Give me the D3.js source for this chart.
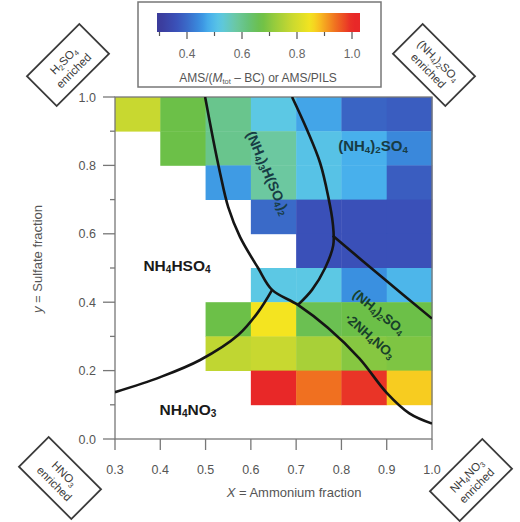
<!DOCTYPE html>
<html><head><meta charset="utf-8">
<script src="https://cdn.jsdelivr.net/npm/d3@7"></script>
<style>
html,body{margin:0;padding:0;background:#fff;}
svg{display:block;font-family:"Liberation Sans","DejaVu Sans",sans-serif;}
</style></head>
<body><svg id="c" width="520" height="522"></svg>
<script>
// ---------------- data ----------------
const xBins = [0.3, 0.4, 0.5, 0.6, 0.7, 0.8, 0.9];          // left edge of ammonium-fraction bin
const yBins = [0.9, 0.8, 0.7, 0.6, 0.5, 0.4, 0.3, 0.2, 0.1, 0.0]; // bottom edge of sulfate-fraction bin
// AMS/(Mtot-BC) ratio per cell (rows follow yBins, columns follow xBins); null = no data
const row90 = [0.78, 0.67, 0.60, 0.52, 0.47, 0.39, 0.38];
const row80 = [null, 0.67, 0.60, 0.58, 0.51, 0.48, 0.44];
const row70 = [null, null, 0.46, 0.58, 0.51, 0.48, 0.38];
const row60 = [null, null, null, 0.40, 0.36, 0.36, 0.36];
const row50 = [null, null, null, null, 0.36, 0.36, 0.36];
const row40 = [null, null, null, 0.52, 0.52, 0.45, 0.49];
const row30 = [null, null, 0.67, 0.85, 0.66, 0.67, 0.67];
const row20 = [null, null, 0.77, 0.78, 0.74, 0.70, 0.69];
const row10 = [null, null, null, 1.00, 0.94, 0.99, 0.87];
const row00 = [null, null, null, null, null, null, null];
const rows = [row90, row80, row70, row60, row50, row40, row30, row20, row10, row00];

const xTicks = [0.3, 0.4, 0.5, 0.6, 0.7, 0.8, 0.9, 1.0];
const yTicks = [0.0, 0.2, 0.4, 0.6, 0.8, 1.0];
const yMinor = [0.1, 0.3, 0.5, 0.7, 0.9];
const cbTicks = [0.4, 0.6, 0.8, 1.0];
const cbMinor = [0.3, 0.5, 0.7, 0.9];

// colormap stops
const cmapVals = [0.30, 0.36, 0.40, 0.45, 0.48, 0.52, 0.58, 0.62, 0.67, 0.72, 0.78, 0.85, 0.88, 0.94, 1.00];
const cmapCols = ["#3b3b9a","#3a50b8","#3a6ac8","#3a90e0","#48b0ec","#5cc8e4","#6cc8a0","#66c27a","#6cc048","#98cc3c","#c8d830","#f4e420","#f8c020","#f07020","#e82828"];

// phase boundaries [x, y]
const curveBisulfate = [[0.499,1.0],[0.517,0.874],[0.532,0.778],[0.550,0.678],[0.576,0.591],[0.616,0.5],[0.647,0.436],[0.704,0.392],[0.77,0.325],[0.84,0.235],[0.9,0.135],[0.95,0.075],[1.0,0.045]];
const curveLetovicite = [[0.691,1.0],[0.724,0.904],[0.753,0.807],[0.771,0.708],[0.781,0.63],[0.782,0.567],[0.764,0.5],[0.735,0.436],[0.704,0.392]];
const curveNitrate = [[0.3,0.137],[0.4,0.181],[0.488,0.231],[0.572,0.304],[0.616,0.371],[0.647,0.436]];
const curveMixed = [[0.781,0.594],[0.89,0.473],[1.0,0.352]];

// ---------------- drawing ----------------
const svg = d3.select("#c");
const x = d3.scaleLinear().domain([0.3, 1.0]).range([115, 432]);
const y = d3.scaleLinear().domain([0, 1]).range([439, 97]);
const color = d3.scaleLinear().domain(cmapVals).range(cmapCols).clamp(true);
const step = 0.1;

// cells
const cells = [];
rows.forEach((r, i) => r.forEach((v, j) => { if (v != null) cells.push({x0: xBins[j], y0: yBins[i], v}); }));
svg.append("g").selectAll("rect").data(cells).join("rect")
  .attr("x", d => x(d.x0)).attr("y", d => y(d.y0 + step))
  .attr("width", d => x(d.x0 + step) - x(d.x0) + 0.4)
  .attr("height", d => y(d.y0) - y(d.y0 + step) + 0.4)
  .attr("fill", d => color(d.v));

// frame and ticks
const axisCol = "#777";
svg.append("rect").attr("x", x(0.3)).attr("y", y(1)).attr("width", x(1) - x(0.3)).attr("height", y(0) - y(1))
  .attr("fill", "none").attr("stroke", axisCol).attr("stroke-width", 1.3);
const ax = svg.append("g");
ax.selectAll(".xt").data(xTicks).join("line").attr("x1", d => x(d)).attr("x2", d => x(d))
  .attr("y1", y(0)).attr("y2", y(0) + 11).attr("stroke", axisCol).attr("stroke-width", 1.3);
ax.selectAll(".xl").data(xTicks).join("text").attr("x", d => x(d)).attr("y", 474)
  .attr("text-anchor", "middle").attr("font-size", 12.5).attr("fill", "#555").text(d => d.toFixed(1));
ax.selectAll(".yt").data(yTicks).join("line").attr("x1", x(0.3) - 12).attr("x2", x(0.3))
  .attr("y1", d => y(d)).attr("y2", d => y(d)).attr("stroke", axisCol).attr("stroke-width", 1.3);
ax.selectAll(".ym").data(yMinor).join("line").attr("x1", x(0.3) - 5).attr("x2", x(0.3))
  .attr("y1", d => y(d)).attr("y2", d => y(d)).attr("stroke", axisCol).attr("stroke-width", 1.3);
ax.selectAll(".yl").data(yTicks).join("text").attr("x", 96).attr("y", d => y(d) + 4.5)
  .attr("text-anchor", "end").attr("font-size", 12.5).attr("fill", "#555").text(d => d.toFixed(1));

// axis titles
const xt = svg.append("text").attr("x", 294).attr("y", 497).attr("text-anchor", "middle")
  .attr("font-size", 13).attr("fill", "#555");
xt.append("tspan").attr("font-style", "italic").text("X");
xt.append("tspan").text(" = Ammonium fraction");
const yt = svg.append("text").attr("transform", "translate(42,259) rotate(-90)").attr("text-anchor", "middle")
  .attr("font-size", 13).attr("fill", "#555");
yt.append("tspan").attr("font-style", "italic").text("y");
yt.append("tspan").text(" = Sulfate fraction");

// curves
const line = d3.line().x(d => x(d[0])).y(d => y(d[1])).curve(d3.curveCatmullRom.alpha(0.5));
svg.append("defs").append("clipPath").attr("id", "clip").append("rect")
  .attr("x", x(0.3)).attr("y", y(1)).attr("width", x(1) - x(0.3)).attr("height", y(0) - y(1));
const cg = svg.append("g").attr("clip-path", "url(#clip)");
[curveBisulfate, curveLetovicite, curveNitrate, curveMixed].forEach(c => {
  cg.append("path").attr("d", line(c)).attr("fill", "none").attr("stroke", "#151515").attr("stroke-width", 2.6);
});

// rich text helper: parts = [[text, "sub"|"" ]]
function rich(g, parts, size, fill, weight) {
  const t = g.append("text").attr("font-size", size).attr("fill", fill).attr("font-weight", weight || "bold")
    .attr("text-anchor", "middle");
  parts.forEach(p => {
    const s = t.append("tspan").text(p[0]);
    if (p[1] === "sub") s.attr("font-size", size * 0.65).attr("baseline-shift", "-22%");
  });
  return t;
}
function label(cx, cy, ang, parts, size, fill) {
  const g = svg.append("g").attr("transform", `translate(${cx},${cy}) rotate(${ang})`);
  rich(g, parts, size, fill).attr("y", size * 0.35);
  return g;
}
label(373, 146, 0, [["(NH",""],["4","sub"],[")",""],["2","sub"],["SO",""],["4","sub"]], 15, "#173c44");
label(268, 173, 67, [["(NH",""],["4","sub"],[")",""],["3","sub"],["H(SO",""],["4","sub"],[")",""],["2","sub"]], 14, "#173c44");
label(177, 266, 0, [["NH",""],["4","sub"],["HSO",""],["4","sub"]], 15.5, "#1a1a1a");
label(188, 410, 0, [["NH",""],["4","sub"],["NO",""],["3","sub"]], 15.5, "#1a1a1a");
label(379, 312, 39, [["(NH",""],["4","sub"],[")",""],["2","sub"],["SO",""],["4","sub"]], 13.5, "#17402a");
label(370, 336, 41, [["\u00b72NH",""],["4","sub"],["NO",""],["3","sub"]], 13.5, "#17402a");

// corner boxes
function corner(cx, cy, ang, l1, l2) {
  const g = svg.append("g").attr("transform", `translate(${cx},${cy}) rotate(${ang})`);
  g.append("rect").attr("x", -37).attr("y", -21).attr("width", 74).attr("height", 42)
    .attr("fill", "#fff").attr("stroke", "#3a3a3a").attr("stroke-width", 1.8);
  rich(g, l1, 11.5, "#3a3a3a", "normal").attr("y", -2);
  rich(g, l2, 11.5, "#3a3a3a", "normal").attr("y", 12);
}
corner(68, 65, -45, [["H",""],["2","sub"],["SO",""],["4","sub"]], [["enriched",""]]);
corner(434, 65, 45, [["(NH",""],["4","sub"],[")",""],["2","sub"],["SO",""],["4","sub"]], [["enriched",""]]);
corner(60, 478, 45, [["HNO",""],["3","sub"]], [["enriched",""]]);
corner(471, 480, -45, [["NH",""],["4","sub"],["NO",""],["3","sub"]], [["enriched",""]]);

// colorbar
svg.append("rect").attr("x", 138).attr("y", 2).attr("width", 243).attr("height", 85)
  .attr("fill", "#fff").attr("stroke", "#777").attr("stroke-width", 1.5);
const cb = d3.scaleLinear().domain([0.3, 1.0]).range([159.5, 352]);
const bx0 = 157, bx1 = 360;
const grad = svg.select("defs").append("linearGradient").attr("id", "cbg");
d3.range(0, 41).forEach(i => {
  const px = bx0 + (bx1 - bx0) * i / 40;
  grad.append("stop").attr("offset", (i / 40 * 100) + "%").attr("stop-color", color(cb.invert(px)));
});
svg.append("rect").attr("x", bx0).attr("y", 13).attr("width", bx1 - bx0).attr("height", 19).attr("fill", "url(#cbg)");
svg.selectAll(".cbt").data(cbTicks).join("line").attr("x1", d => cb(d)).attr("x2", d => cb(d))
  .attr("y1", 32).attr("y2", 39).attr("stroke", "#555").attr("stroke-width", 1.2);
svg.selectAll(".cbm").data(cbMinor).join("line").attr("x1", d => cb(d)).attr("x2", d => cb(d))
  .attr("y1", 32).attr("y2", 36).attr("stroke", "#555").attr("stroke-width", 1.2);
svg.selectAll(".cbl").data(cbTicks).join("text").attr("x", d => cb(d)).attr("y", 58)
  .attr("text-anchor", "middle").attr("font-size", 12).attr("fill", "#666").text(d => d.toFixed(1));
const ct = svg.append("text").attr("x", 258).attr("y", 82).attr("text-anchor", "middle")
  .attr("font-size", 12).attr("fill", "#555");
ct.append("tspan").text("AMS/(");
ct.append("tspan").attr("font-style", "italic").text("M");
ct.append("tspan").attr("font-size", 7.5).attr("baseline-shift", "-25%").text("tot");
ct.append("tspan").text(" \u2013 BC) or AMS/PILS");
</script></body></html>
